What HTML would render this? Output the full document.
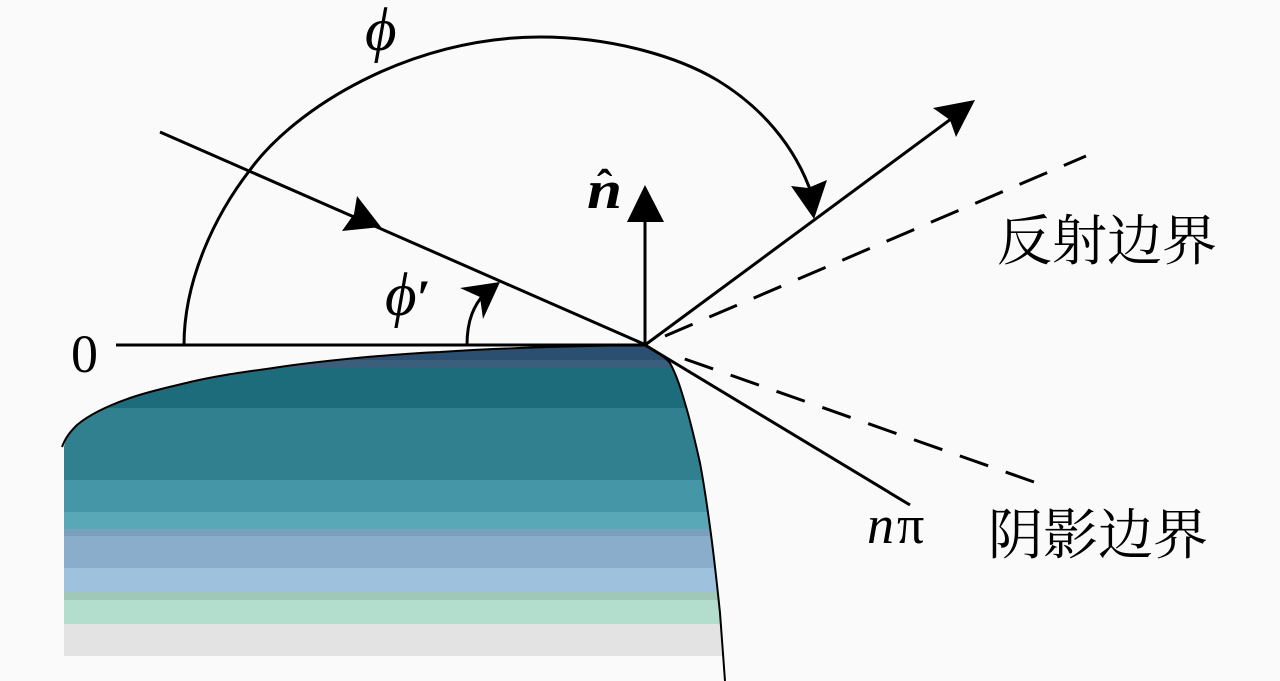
<!DOCTYPE html>
<html><head><meta charset="utf-8"><style>
html,body{margin:0;padding:0;background:#fafafa;width:1280px;height:681px;overflow:hidden}
svg{display:block}
text{fill:#000}
.m{font-family:"Liberation Serif",serif}
.c{font-family:"Liberation Serif","Noto Serif CJK SC",serif;font-size:55px}
</style></head><body>
<svg width="1280" height="681" viewBox="0 0 1280 681" xmlns="http://www.w3.org/2000/svg">
<defs><clipPath id="cp"><path d="M64 447 C66 436 72 430 77 425 C90 414 110 405 130 398 C150 391 170 387 190 382 C220 375 245 372 273 368 C305 363 335 360 367 357 C392 355 415 353 440 352 C500 348 570 346 645 345 C655 350 663 355 670 363 C678 378 682 393 687 410 C692 428 696 445 700 463 C704 484 707 505 710 527 C714 556 717 584 720 613 L725 681 L64 681 Z"/></clipPath></defs>
<rect width="1280" height="681" fill="#fafafa"/>
<g clip-path="url(#cp)">
<rect x="64" y="340" width="662" height="20" fill="#2b4f70"/>
<rect x="64" y="360" width="662" height="8" fill="#3a5f7c"/>
<rect x="64" y="368" width="662" height="40" fill="#1d6c7c"/>
<rect x="64" y="408" width="662" height="72" fill="#31808f"/>
<rect x="64" y="480" width="662" height="32" fill="#4596a6"/>
<rect x="64" y="512" width="662" height="17" fill="#58a8b8"/>
<rect x="64" y="529" width="662" height="7" fill="#7a9fbc"/>
<rect x="64" y="536" width="662" height="32" fill="#8aadcb"/>
<rect x="64" y="568" width="662" height="24" fill="#9ec1de"/>
<rect x="64" y="592" width="662" height="8" fill="#a0c8b8"/>
<rect x="64" y="600" width="662" height="24" fill="#b3dece"/>
<rect x="64" y="624" width="662" height="32" fill="#e3e3e3"/>
</g>
<g fill="none" stroke="#000" stroke-width="2">
<path d="M62 447 C66 436 72 430 77 425 C90 414 110 405 130 398 C150 391 170 387 190 382 C220 375 245 372 273 368 C305 363 335 360 367 357 C392 355 415 353 440 352 C500 348 570 346 645 345 C655 350 663 355 670 363 C678 378 682 393 687 410 C692 428 696 445 700 463 C704 484 707 505 710 527 C714 556 717 584 720 613 L725 681"/>
</g>
<g fill="none" stroke="#000" stroke-width="3">
<line x1="116" y1="345" x2="646" y2="345"/>
<line x1="160" y1="132" x2="646" y2="345"/>
<line x1="645" y1="345" x2="645" y2="215"/>
<line x1="645" y1="345" x2="955" y2="116"/>
<line x1="645" y1="345" x2="910" y2="505"/>
<line x1="665" y1="336" x2="1086" y2="156" stroke-dasharray="30 18.2"/>
<line x1="684.8" y1="359" x2="1034" y2="482" stroke-dasharray="30 18.6"/>
<path d="M184 345 C184 280 215 215 250 170 C295 108 410 37 540 37 C615 37 680 58 717 80 C760 106 795 145 812 195"/>
<path d="M467 345 C467 320 474 305 485 293"/>
</g>
<g fill="#000">
<polygon points="645,185 664,222 627,222"/>
<polygon points="975,100 956,137 950,120 933,108"/>
<polygon points="814,219 791,186 808,188 827,180"/>
<polygon points="381,227 342,231 354,214 357,196"/>
<polygon points="500,282 460,288 480,297 483,319"/>
</g>
<text class="m" x="71" y="372" font-size="54">0</text>
<text class="m" x="365" y="50" font-size="61" font-style="italic">ϕ</text>
<text class="m" x="385" y="315" font-size="61" font-style="italic">ϕ</text>
<text class="m" x="417" y="314" font-size="50" font-weight="bold">′</text>
<text class="m" x="587" y="208" font-size="54" font-style="italic" font-weight="bold" textLength="35" lengthAdjust="spacingAndGlyphs">n</text>
<text class="m" x="597" y="201" font-size="46" font-weight="bold">ˆ</text>
<text class="m" x="867" y="543" font-size="54"><tspan font-style="italic">n</tspan><tspan dx="3">π</tspan></text>
<text class="c" x="997" y="260">反射边界</text>
<text class="c" x="988" y="554">阴影边界</text>
</svg>
</body></html>
